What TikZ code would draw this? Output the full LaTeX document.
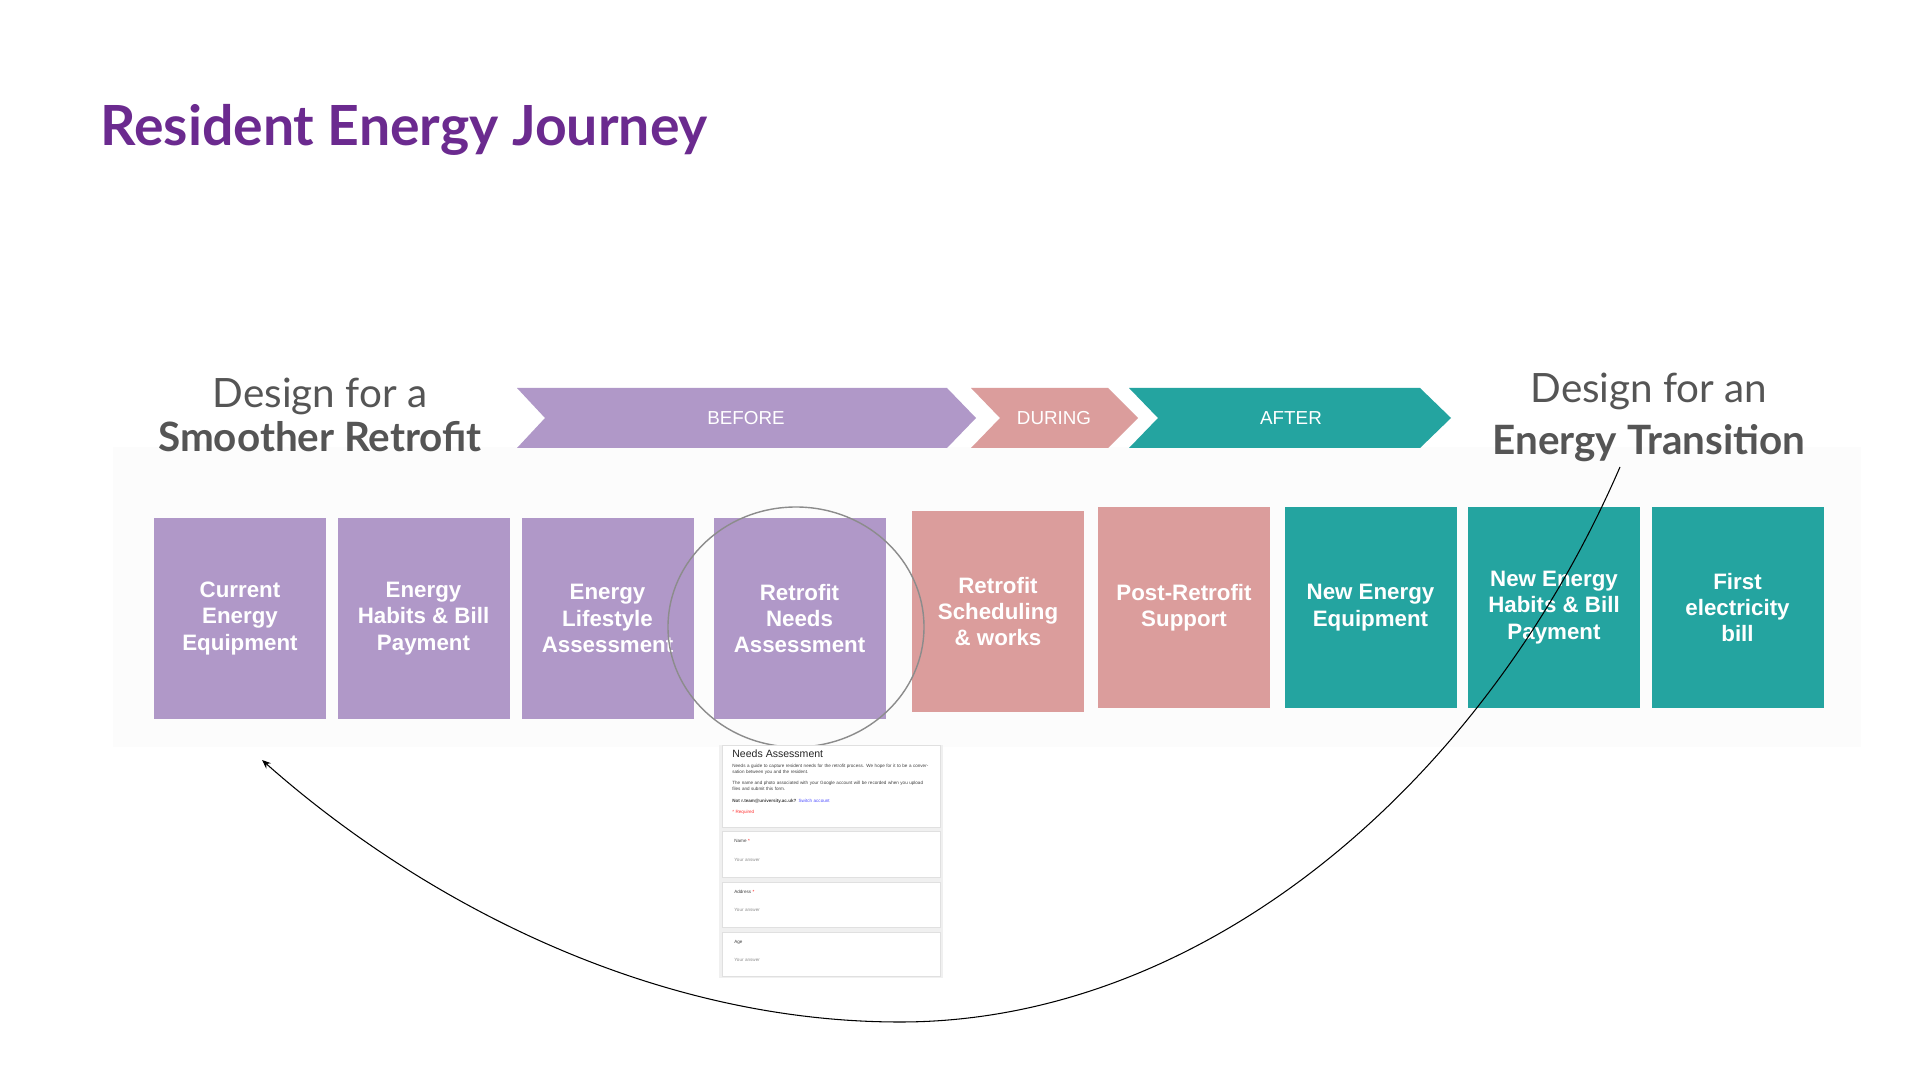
\documentclass[tikz,border=0pt]{standalone}
\usepackage{fontspec}
\setmainfont{Liberation Sans}
\newfontfamily\headfont{Lato}
\usetikzlibrary{arrows.meta}
\definecolor{lilac}{HTML}{B098C8}
\definecolor{rose}{HTML}{DB9D9C}
\definecolor{seateal}{HTML}{24A4A0}
\definecolor{plum}{HTML}{6B2A8F}
\definecolor{slate}{HTML}{555555}

\begin{document}
\begin{tikzpicture}[x=0.2mm,y=-0.2mm,
  stage/.style={minimum width=34.4mm,minimum height=40.2mm,inner sep=0pt,align=center,text=white,font=\bfseries\fontsize{12.7}{15}\selectfont},
  phase/.style={text=white,font=\fontsize{10.7}{12}\selectfont},
  design/.style={text=slate,anchor=base,inner sep=0pt,font=\headfont\fontsize{23}{27}\selectfont},
  formtext/.style={anchor=north west,inner sep=0pt,align=left,text width=40mm,text=black!75,font=\fontsize{2.6}{3.5}\selectfont},
  card/.style={fill=white,draw=black!12,line width=0.3pt}]

\useasboundingbox (0,0) rectangle (1920,1080);
\fill[white] (0,0) rectangle (1920,1080);
\fill[black!1] (113,447) rectangle (1861,747);

% title
\node[anchor=base west,inner sep=0pt,text=plum,font=\headfont\bfseries\fontsize{31.5}{36}\selectfont] (title) at (100,146) {Resident Energy Journey};

% side texts
\node[design] (leftdesign) at (320,408) {Design for a};
\node[design,font=\headfont\bfseries\fontsize{23}{27}\selectfont] (retrofit) at (320,452) {Smoother Retrofit};
\node[design] (rightdesign) at (1649,403) {Design for an};
\node[design,font=\headfont\bfseries\fontsize{23}{27}\selectfont] (transition) at (1649,455) {Energy Transition};

% phases
\fill[lilac] (517,388) -- (947,388) -- (976,418) -- (947,448) -- (517,448) -- (545,418) -- cycle;
\fill[rose] (971,388) -- (1108,388) -- (1138,418) -- (1108,448) -- (971,448) -- (1000,418) -- cycle;
\fill[seateal] (1129,388) -- (1420,388) -- (1451,418) -- (1420,448) -- (1129,448) -- (1158,418) -- cycle;
\node[phase] (before) at (746,418) {BEFORE};
\node[phase] (during) at (1054,418) {DURING};
\node[phase] (after) at (1291,418) {AFTER};

% stages
\node[stage,fill=lilac] (s1) at (240,618.5) {Current\\Energy\\Equipment};
\node[stage,fill=lilac] (s2) at (423.5,618.5) {Energy\\Habits \& Bill\\Payment};
\node[stage,fill=lilac] (s3) at (607.5,618.5) {Energy\\Lifestyle\\Assessment};
\node[stage,fill=lilac] (s4) at (799.5,618.5) {Retrofit\\Needs\\Assessment};
\node[stage,fill=rose] (s5) at (998,611.5) {Retrofit\\Scheduling\\\& works};
\node[stage,fill=rose] (s6) at (1184,607.5) {Post-Retrofit\\Support};
\node[stage,fill=seateal] (s7) at (1370.5,607.5) {New Energy\\Equipment};
\node[stage,fill=seateal] (s8) at (1554,607.5) {New Energy\\Habits \& Bill\\Payment};
\node[stage,fill=seateal] (s9) at (1737.5,607.5) {First\\electricity\\bill};

\draw[black!45,line width=0.8pt] (796,627) ellipse [x radius=25.6mm,y radius=24mm];

% form
\fill[black!6] (719,745) rectangle (943,978);
\draw[card] (722,745) rectangle (940,827);
\draw[card] (722,831) rectangle (940,877);
\draw[card] (722,882) rectangle (940,927);
\draw[card] (722,932) rectangle (940,976);
\node[anchor=base west,inner sep=0pt,text=black!85,font=\fontsize{6}{7}\selectfont] (formhead) at (732,757) {Needs Assessment};
\node[formtext] (intro) at (732,764) {Needs a guide to capture resident needs for the retrofit process. We hope for it to be a conversation between you and the resident.};
\node[formtext] (notice) at (732,781) {The name and photo associated with your Google account will be recorded when you upload files and submit this form.};
\node[formtext] (account) at (732,799) {\textbf{Not r.team@university.ac.uk?} \textcolor{blue!70}{Switch account}};
\node[formtext,text=red!80] (required) at (732,810) {* Required};
\node[formtext] (name) at (734,839) {Name \textcolor{red}{*}};
\node[formtext,text=black!45] (ans1) at (734,858) {Your answer};
\node[formtext] (address) at (734,890) {Address \textcolor{red}{*}};
\node[formtext,text=black!45] (ans2) at (734,908) {Your answer};
\node[formtext] (age) at (734,940) {Age};
\node[formtext,text=black!45] (ans3) at (734,958) {Your answer};

% loop back
\coordinate (arcstart) at (1620,467);
\coordinate (arclow) at (900,1022);
\coordinate (arcend) at (262,760);
\draw[line width=0.6pt,-{Stealth[length=5pt,width=4pt]}] (arcstart) .. controls (1480,790) and (1200,1022) .. (arclow) .. controls (650,1022) and (420,900) .. (arcend);

\end{tikzpicture}
\end{document}
